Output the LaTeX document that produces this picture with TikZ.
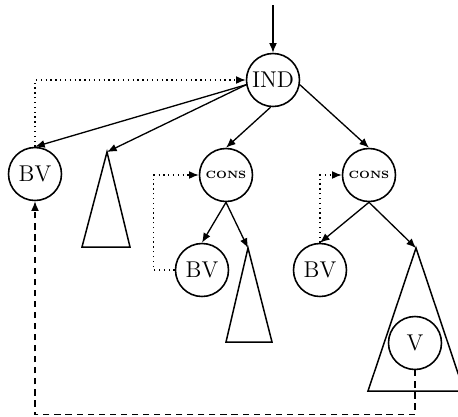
\documentclass[tikz,border=0pt]{standalone}
\usetikzlibrary{arrows.meta}

\tikzset{
  vnode/.style={draw, circle, line width=0.9pt, minimum size=1.06cm, inner sep=0pt, font=\fontsize{13}{13}\selectfont},
  cnode/.style={vnode, font=\fontsize{6}{6}\selectfont\bfseries},
  edge/.style={-{Latex[length=5.5pt,width=4.5pt]}, line width=0.75pt},
  link/.style={edge, dotted},
  back/.style={edge, dash pattern=on 3.5pt off 2.8pt},
}

\begin{document}
\begin{tikzpicture}[x=0.02cm, y=-0.02cm]
        \useasboundingbox (0,0) rectangle (458,417);

        % Tree nodes
        \node[vnode] (IND) at (273,80) {IND};
        \node[vnode] (BVa) at (35,174) {BV};
        \node[cnode] (CONSa) at (226,175) {CONS};
        \node[cnode] (CONSb) at (369,175) {CONS};
        \node[vnode] (BVb) at (202,270) {BV};
        \node[vnode] (BVc) at (320,270) {BV};
        \node[vnode] (V) at (415,343) {V};

        % Subtrees (triangles)
        \coordinate (Ta) at (107,152);
        \coordinate (Tb) at (248,248);
        \coordinate (Tc) at (416,248);
        \draw[line width=0.85pt] (Ta) -- (82,247) -- (130,247) -- cycle;
        \draw[line width=0.85pt] (Tb) -- (226,342) -- (272,342) -- cycle;
        \draw[line width=0.85pt] (Tc) -- (368,391) -- (464,391) -- cycle;

        % Entry arrow
        \coordinate (entry) at (273,5);
        \draw[edge] (entry) -- (IND);

        % Tree edges
        \draw[edge] (IND.190) -- (BVa.north);
        \draw[edge] (IND.190) -- (Ta);
        \draw[edge] (IND.265) -- (CONSa.north);
        \draw[edge] (IND.-10) -- (CONSb.north);
        \draw[edge] (CONSa.south) -- (BVb.north);
        \draw[edge] (CONSa.south) -- (Tb);
        \draw[edge] (CONSb.south) -- (BVc.north);
        \draw[edge] (CONSb.south) -- (Tc);

        % Binder links (dotted)
        \draw[link] (BVa.north) |- (IND.west);
        \draw[link] (BVb.west) -- ++(-21,0) |- (CONSa.west);
        \draw[link] (BVc.north) |- (CONSb.west);

        % Back pointer (dashed)
        \draw[back] (V.south) -- ++(0,44) -| (BVa.south);
\end{tikzpicture}
\end{document}
